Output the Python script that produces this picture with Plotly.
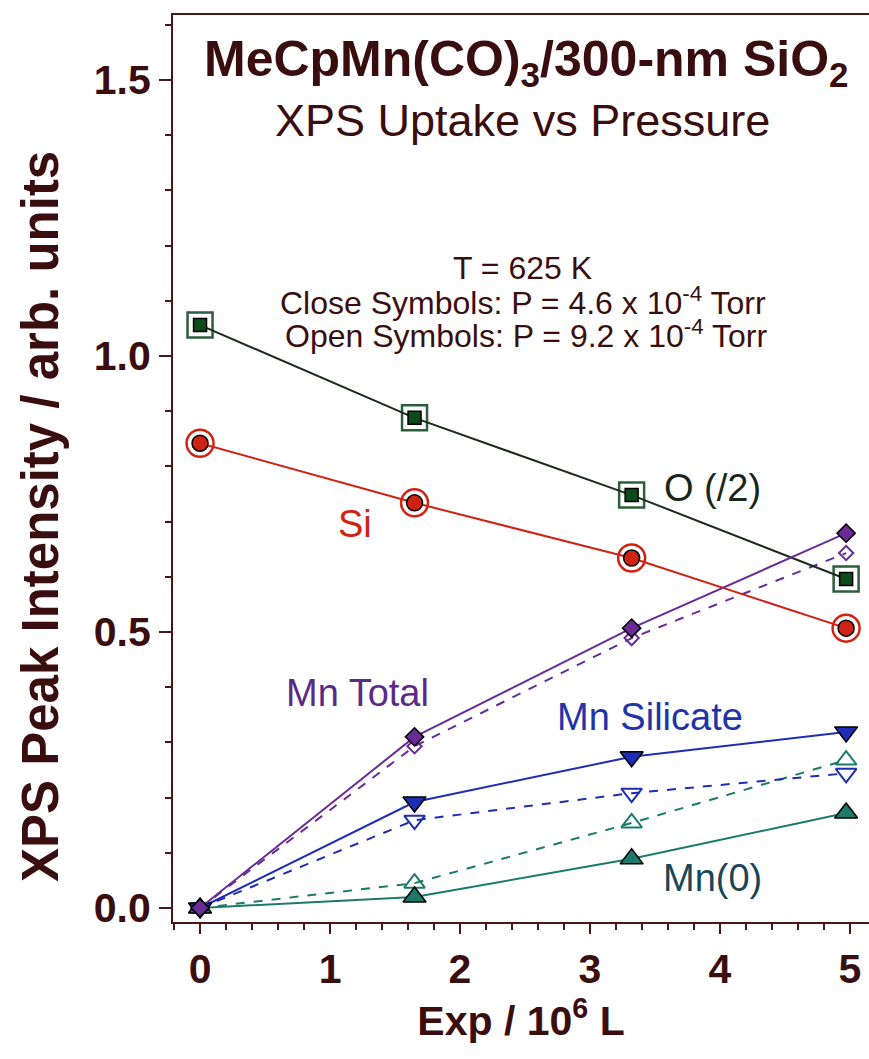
import plotly.graph_objects as go

# ---- data ----
exposure = [0.0, 1.65, 3.32, 4.97]

o_half = [1.056, 0.888, 0.748, 0.596]
si = [0.842, 0.734, 0.634, 0.507]

mn_total_close = [0.0, 0.310, 0.507, 0.679]
mn_total_open = [0.0, 0.293, 0.489, 0.643]

mn_silicate_close = [0.0, 0.192, 0.274, 0.319]
mn_silicate_open = [0.0, 0.159, 0.208, 0.244]

mn0_close = [0.0, 0.020, 0.089, 0.172]
mn0_open = [0.0, 0.045, 0.154, 0.268]

x_ticks = [0, 1, 2, 3, 4, 5]
y_ticks = [0.0, 0.5, 1.0, 1.5]
y_tick_labels = ["0.0", "0.5", "1.0", "1.5"]

# ---- styles ----
AXIS = "#4a1616"
TXT = "#3a0e0e"
C_O_LINE = "#1b2a1c"
C_O_FILL = "#0c4a1c"
C_O_OPEN = "#2c5e3a"
C_SI = "#cf2414"
C_MNT = "#6a2c94"
C_MNS = "#1d2db4"
C_MN0 = "#1c7a6a"

FONT = "Liberation Sans"

fig = go.Figure()

def add(x, y, color, dash, symbol, size, fill, lw=2, edge="black", edgew=1.5, mode="lines+markers"):
    fig.add_trace(go.Scatter(
        x=x, y=y, mode=mode,
        line=dict(color=color, width=lw, dash=dash),
        marker=dict(symbol=symbol, size=size, color=fill,
                    line=dict(color=edge, width=edgew)),
        showlegend=False, cliponaxis=False))

# open (dashed) series first
add(exposure, mn0_open, C_MN0, "dash", "triangle-up-open", 18, C_MN0, edge=C_MN0, edgew=2)
add(exposure, mn_silicate_open, C_MNS, "dash", "triangle-down-open", 18, C_MNS, edge=C_MNS, edgew=2)
add(exposure, mn_total_open, C_MNT, "dash", "diamond-open", 11, C_MNT, edge=C_MNT, edgew=2)

# O and Si: open symbols around closed ones
add(exposure, o_half, C_O_OPEN, None, "square-open", 25, C_O_OPEN, edge=C_O_OPEN, edgew=2.5, mode="markers")
add(exposure, si, C_SI, None, "circle-open", 27, C_SI, edge=C_SI, edgew=2.5, mode="markers")
add(exposure, o_half, C_O_LINE, "solid", "square", 13, C_O_FILL)
add(exposure, si, C_SI, "solid", "circle", 16, C_SI)

# closed Mn series
add(exposure, mn0_close, C_MN0, "solid", "triangle-up", 20, C_MN0)
add(exposure, mn_silicate_close, C_MNS, "solid", "triangle-down", 20, C_MNS)
add(exposure, mn_total_close, C_MNT, "solid", "diamond", 14, C_MNT)

ann = []
def px(xp):
    return (xp - 173) / 696.0
def py(yp):
    return (922 - yp) / 907.0

def txt(xp, yp, s, size, color, bold=False, angle=0):
    ann.append(dict(x=px(xp), y=py(yp), xref="paper", yref="paper", text=s, showarrow=False,
                    xanchor="center", yanchor="middle", textangle=angle,
                    font=dict(family=FONT, size=size, color=color,
                              weight="bold" if bold else "normal")))

# titles
txt(526, 63, "MeCpMn(CO)<sub>3</sub>/300-nm SiO<sub>2</sub>", 50, TXT, True)
txt(522, 120, "XPS Uptake vs Pressure", 45, TXT)
txt(522, 268, "T = 625 K", 32, TXT)
txt(523, 301, "Close Symbols: P = 4.6 x 10<sup>-4</sup> Torr", 32, TXT)
txt(526, 334, "Open Symbols: P = 9.2 x 10<sup>-4</sup> Torr", 32, TXT)

# y axis title
txt(40, 517, "XPS Peak Intensity / arb. units", 51, TXT, True, -90)

# series labels
txt(712, 488, "O (/2)", 38, "#1a261a")
txt(355, 524, "Si", 38, C_SI)
txt(357, 693, "Mn Total", 38, "#5b2a86")
txt(650, 717, "Mn Silicate", 38, "#2233a8")
txt(712, 878, "Mn(0)", 38, "#1a4656")

fig.update_layout(
    width=869, height=1059,
    margin=dict(l=173, r=0, t=15, b=137),
    paper_bgcolor="white", plot_bgcolor="white",
    annotations=ann,
    font=dict(family=FONT, color=TXT),
)

fig.update_xaxes(
    range=[-0.208, 5.146], tickvals=x_ticks,
    showgrid=False, zeroline=False,
    showline=True, linecolor=AXIS, linewidth=2, mirror=True,
    ticks="outside", ticklen=10, tickwidth=2, tickcolor=AXIS,
    minor=dict(dtick=0.2, tick0=0, ticks="outside", ticklen=6, tickwidth=2, tickcolor=AXIS),
    tickfont=dict(family=FONT, size=41, color=TXT, weight="bold"),
    title=dict(text="Exp / 10<sup>6</sup> L", standoff=10,
               font=dict(family=FONT, size=41, color=TXT, weight="bold")),
)
fig.update_yaxes(
    range=[-0.0254, 1.6178], tickvals=y_ticks, ticktext=y_tick_labels,
    showgrid=False, zeroline=False,
    showline=True, linecolor=AXIS, linewidth=2,
    ticks="outside", ticklen=12, tickwidth=2, tickcolor=AXIS,
    minor=dict(dtick=0.1, tick0=0, ticks="outside", ticklen=6, tickwidth=2, tickcolor=AXIS),
    tickfont=dict(family=FONT, size=41, color=TXT, weight="bold"),
)

fig.write_html("out.html")
